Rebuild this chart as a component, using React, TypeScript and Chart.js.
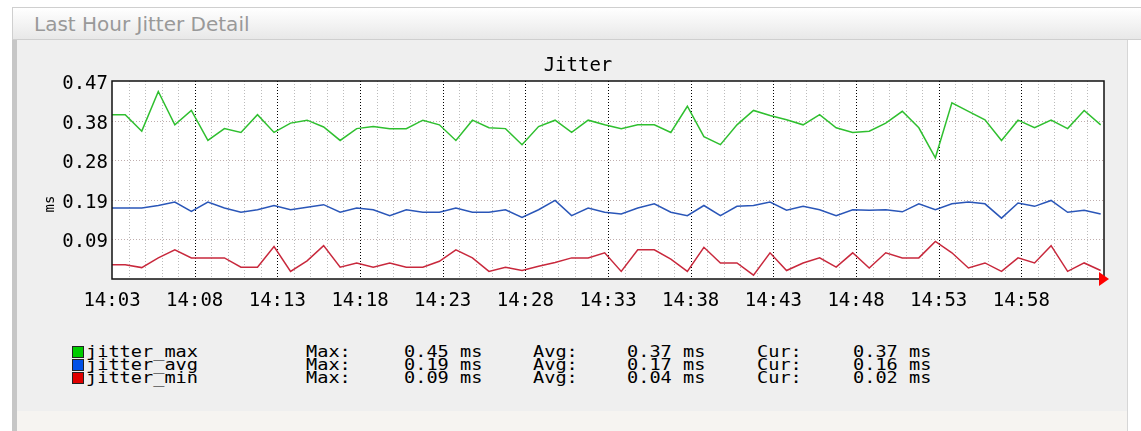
import React, { useEffect, useRef } from "react";
import { Chart, registerables } from "chart.js";

Chart.register(...registerables);

// ---- data (ms), one sample per minute starting 14:03 ----
const jitterMax = [
  0.389, 0.350, 0.444, 0.365, 0.399, 0.328, 0.356, 0.347, 0.389, 0.347,
  0.369, 0.376, 0.360, 0.328, 0.356, 0.361, 0.356, 0.356, 0.376, 0.365,
  0.328, 0.376, 0.358, 0.356, 0.318, 0.361, 0.376, 0.347, 0.376, 0.365,
  0.356, 0.365, 0.365, 0.347, 0.409, 0.337, 0.318, 0.365, 0.399, 0.387,
  0.377, 0.365, 0.389, 0.358, 0.347, 0.350, 0.369, 0.397, 0.358, 0.287,
  0.417, 0.397, 0.377, 0.328, 0.376, 0.358, 0.376, 0.356, 0.399, 0.365,
];
const jitterAvg = [
  0.168, 0.168, 0.174, 0.182, 0.160, 0.182, 0.168, 0.158, 0.164, 0.174,
  0.164, 0.170, 0.176, 0.158, 0.168, 0.164, 0.150, 0.164, 0.158, 0.158,
  0.168, 0.158, 0.158, 0.164, 0.146, 0.164, 0.186, 0.150, 0.168, 0.158,
  0.154, 0.168, 0.178, 0.158, 0.150, 0.174, 0.150, 0.172, 0.174, 0.182,
  0.163, 0.172, 0.164, 0.150, 0.164, 0.163, 0.164, 0.159, 0.178, 0.164,
  0.178, 0.182, 0.178, 0.144, 0.180, 0.172, 0.186, 0.158, 0.163, 0.154,
];
const jitterMin = [
  0.034, 0.027, 0.050, 0.069, 0.050, 0.050, 0.050, 0.028, 0.028, 0.077,
  0.018, 0.043, 0.079, 0.028, 0.038, 0.028, 0.038, 0.028, 0.028, 0.042,
  0.069, 0.050, 0.018, 0.028, 0.020, 0.030, 0.039, 0.050, 0.050, 0.062,
  0.018, 0.069, 0.069, 0.047, 0.018, 0.075, 0.038, 0.038, 0.009, 0.062,
  0.020, 0.038, 0.050, 0.028, 0.062, 0.026, 0.062, 0.050, 0.050, 0.089,
  0.062, 0.026, 0.038, 0.018, 0.050, 0.038, 0.079, 0.018, 0.038, 0.020,
];

// sample times in minutes after 14:03 (samples land ~48 s into each minute)
const sampleMinutes = jitterMax.map((_, i) => i + 0.8);

const xTickMinutes = [0, 5, 10, 15, 20, 25, 30, 35, 40, 45, 50, 55];
const xTickLabels = ["14:03", "14:08", "14:13", "14:18", "14:23", "14:28", "14:33", "14:38", "14:43", "14:48", "14:53", "14:58"];
const yTickValues = [0.09375, 0.1875, 0.28125, 0.375, 0.46875];
const yTickLabels = ["0.09", "0.19", "0.28", "0.38", "0.47"];

const seriesNames = ["jitter_max", "jitter_avg", "jitter_min"];
const lineColors = ["#2fbf2f", "#2a56b8", "#c8283c"];
const swatchColors = ["#00cc00", "#0050e6", "#e00000"];
const legendMax = ["0.45 ms", "0.19 ms", "0.09 ms"];
const legendAvg = ["0.37 ms", "0.17 ms", "0.04 ms"];
const legendCur = ["0.37 ms", "0.16 ms", "0.02 ms"];

const MONO = "'DejaVu Sans Mono', monospace";

const gridPlugin = {
  id: "rrdGrid",
  beforeDatasetsDraw(chart: any) {
    const { ctx, chartArea, scales } = chart;
    const { left, right, top, bottom } = chartArea;
    const x = scales.x;
    const y = scales.y;
    ctx.save();
    ctx.fillStyle = "#ffffff";
    ctx.fillRect(left, top, right - left, bottom - top);
    ctx.lineWidth = 1;
    ctx.setLineDash([1, 2]);
    // minor vertical grid, one per minute
    ctx.strokeStyle = "rgba(175,175,175,0.85)";
    for (let m = 1; m < 60; m++) {
      if (xTickMinutes.includes(m)) continue;
      const px = Math.round(x.getPixelForValue(m)) + 0.5;
      ctx.beginPath();
      ctx.moveTo(px, top);
      ctx.lineTo(px, bottom);
      ctx.stroke();
    }
    // horizontal grid
    ctx.strokeStyle = "rgba(185,165,165,0.9)";
    for (const v of yTickValues) {
      const py = Math.round(y.getPixelForValue(v)) + 0.5;
      if (py <= top + 1) continue;
      ctx.beginPath();
      ctx.moveTo(left, py);
      ctx.lineTo(right, py);
      ctx.stroke();
    }
    // major vertical grid
    ctx.strokeStyle = "#000000";
    for (const m of xTickMinutes) {
      if (m === 0) continue;
      const px = Math.round(x.getPixelForValue(m)) + 0.5;
      ctx.beginPath();
      ctx.moveTo(px, top);
      ctx.lineTo(px, bottom);
      ctx.stroke();
    }
    ctx.restore();
  },
  afterDatasetsDraw(chart: any) {
    const { ctx, chartArea } = chart;
    const { left, right, top, bottom } = chartArea;
    ctx.save();
    ctx.strokeStyle = "#111111";
    ctx.lineWidth = 1.5;
    ctx.strokeRect(left, top, right - left, bottom - top);
    // red arrow at the end of the x axis
    ctx.fillStyle = "#ff0000";
    ctx.beginPath();
    ctx.moveTo(right - 5, bottom - 7);
    ctx.lineTo(right + 5, bottom);
    ctx.lineTo(right - 5, bottom + 7);
    ctx.closePath();
    ctx.fill();
    ctx.restore();
  },
};

function JitterChart() {
  const ref = useRef<HTMLCanvasElement | null>(null);
  useEffect(() => {
    if (!ref.current) return;
    const mk = (vals: number[]) => [{ x: 0, y: vals[0] }, ...vals.map((v, i) => ({ x: sampleMinutes[i], y: v }))];
    const chart = new Chart(ref.current, {
      type: "line",
      data: {
        datasets: [
          { label: seriesNames[0], data: mk(jitterMax), borderColor: lineColors[0] },
          { label: seriesNames[1], data: mk(jitterAvg), borderColor: lineColors[1] },
          { label: seriesNames[2], data: mk(jitterMin), borderColor: lineColors[2] },
        ],
      },
      options: {
        animation: false,
        responsive: false,
        maintainAspectRatio: false,
        layout: { padding: { left: 0, right: 37, top: 81, bottom: 0 } },
        plugins: { legend: { display: false }, title: { display: false }, tooltip: { enabled: false } },
        elements: { point: { radius: 0 }, line: { tension: 0, borderWidth: 1.5, fill: false } },
        scales: {
          x: {
            type: "linear",
            min: 0,
            max: 60,
            grid: { display: false, drawTicks: false },
            border: { display: false },
            afterFit: (s: any) => { s.height = 41; },
            afterBuildTicks: (s: any) => { s.ticks = xTickMinutes.map((v) => ({ value: v })); },
            ticks: {
              autoSkip: false,
              maxRotation: 0,
              padding: 11,
              color: "#000",
              font: { family: MONO, size: 19 },
              callback: (v: any) => xTickLabels[xTickMinutes.indexOf(Number(v))] ?? "",
            },
          },
          y: {
            type: "linear",
            min: 0,
            max: 0.46875,
            grid: { display: false, drawTicks: false },
            border: { display: false },
            afterFit: (s: any) => { s.width = 112; },
            afterBuildTicks: (s: any) => { s.ticks = yTickValues.map((v) => ({ value: v })); },
            ticks: {
              autoSkip: false,
              padding: 4,
              labelOffset: 3,
              color: "#000",
              font: { family: MONO, size: 19 },
              callback: (v: any) => {
                const i = yTickValues.findIndex((t) => Math.abs(t - Number(v)) < 1e-9);
                return i >= 0 ? yTickLabels[i] : "";
              },
            },
          },
        },
      },
      plugins: [gridPlugin],
    });
    return () => chart.destroy();
  }, []);
  return <canvas ref={ref} width={1141} height={320} style={{ position: "absolute", left: 0, top: 0, width: 1141, height: 320 }} />;
}

export default function App() {
  const legendTop = [352, 365, 378];
  const col = (left: number, top: number, text: string, key: string) => (
    <div key={key} style={{ position: "absolute", left, top: top - 8, height: 16, lineHeight: "16px", fontFamily: MONO, fontSize: 15, color: "#000", whiteSpace: "pre", transform: "scaleX(1.24)", transformOrigin: "0 50%" }}>{text}</div>
  );
  return (
    <div style={{ position: "fixed", left: 0, top: 0, width: 1141, height: 431, background: "#ffffff", overflow: "hidden" }}>
      {/* title bar */}
      <div style={{ position: "absolute", left: 12, top: 7, width: 1141, height: 33, border: "1px solid #cfcfcf", background: "linear-gradient(#ffffff, #e8e8e8)", boxSizing: "border-box" }} />
      <div style={{ position: "absolute", left: 34, top: 11, height: 26, lineHeight: "26px", fontFamily: "'DejaVu Sans', Verdana, sans-serif", fontSize: 20, color: "#999999" }}>Last Hour Jitter Detail</div>
      {/* panel body */}
      <div style={{ position: "absolute", left: 12, top: 40, width: 1116, height: 391, background: "#efefef", borderLeft: "5px solid #c6c6c6", borderRight: "1px solid #d6d6d6", boxSizing: "border-box" }} />
      <div style={{ position: "absolute", left: 17, top: 411, width: 1110, height: 20, background: "#f6f4f1" }} />
      <JitterChart />
      {/* chart title and vertical label */}
      <div style={{ position: "absolute", left: 578, top: 64, transform: "translate(-50%, -50%)", fontFamily: MONO, fontSize: 19, lineHeight: "22px", color: "#000", whiteSpace: "pre" }}>Jitter</div>
      <div style={{ position: "absolute", left: 49, top: 204, transform: "translate(-50%, -50%) rotate(-90deg)", fontFamily: MONO, fontSize: 14, lineHeight: "14px", color: "#000" }}>ms</div>
      {/* legend */}
      {seriesNames.map((name, i) => (
        <React.Fragment key={name}>
          <div style={{ position: "absolute", left: 72, top: legendTop[i] - 6, width: 12, height: 12, background: swatchColors[i], border: "1px solid #222", boxSizing: "border-box" }} />
          {col(86, legendTop[i], name, name + "n")}
          {col(306, legendTop[i], "Max:", name + "a")}
          {col(404, legendTop[i], legendMax[i], name + "b")}
          {col(533, legendTop[i], "Avg:", name + "c")}
          {col(627, legendTop[i], legendAvg[i], name + "d")}
          {col(757, legendTop[i], "Cur:", name + "e")}
          {col(853, legendTop[i], legendCur[i], name + "f")}
        </React.Fragment>
      ))}
    </div>
  );
}
